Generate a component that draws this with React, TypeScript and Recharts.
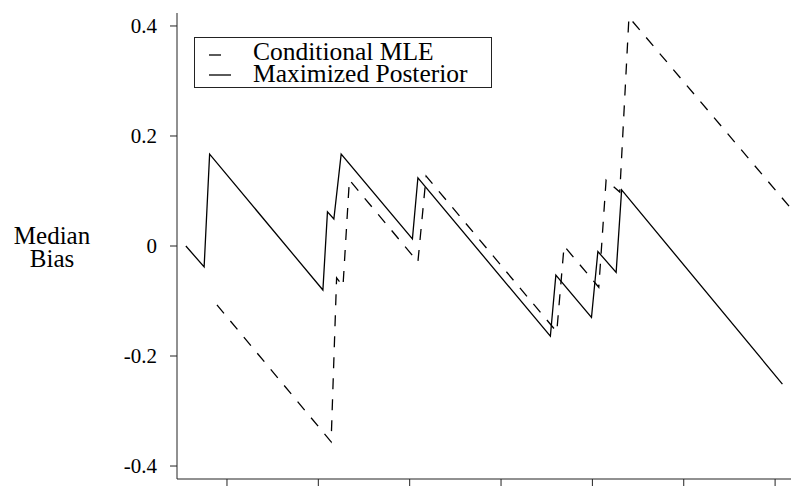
import { LineChart, Line, XAxis, YAxis, Legend } from "recharts";

// solid line: maximized posterior
const postX = [0.55, 0.75, 0.81, 2.05, 2.1, 2.17, 2.25, 3.03, 3.09, 4.54, 4.6, 4.99, 5.06, 5.26, 5.32, 7.08];
const postY = [0.0, -0.038, 0.167, -0.08, 0.062, 0.049, 0.167, 0.013, 0.124, -0.164, -0.053, -0.13, -0.01, -0.048, 0.102, -0.251];

// dashed line: conditional MLE
const mleX = [0.89, 2.14, 2.2, 2.27, 2.34, 3.09, 3.18, 4.61, 4.69, 5.07, 5.15, 5.3, 5.4, 7.17];
const mleY = [-0.107, -0.356, -0.058, -0.073, 0.12, -0.029, 0.127, -0.156, 0.0, -0.075, 0.12, 0.098, 0.416, 0.069];

const xTicks = [1, 2, 3, 4, 5, 6, 7];
const yTicks = [-0.4, -0.2, 0, 0.2, 0.4];

const seriesNames = ["Conditional MLE", "Maximized Posterior"];

const FONT = "'Liberation Serif', 'Times New Roman', serif";

const toPoints = (xs: number[], ys: number[]) => xs.map((x, i) => ({ x, y: ys[i] }));

const postData = toPoints(postX, postY);
const mleData = toPoints(mleX, mleY);

function YLabel() {
  return (
    <text x={52} textAnchor="middle" fontFamily={FONT} fontSize={25} fill="#000">
      <tspan x={52} y={244}>Median</tspan>
      <tspan x={52} y={267}>Bias</tspan>
    </text>
  );
}

function LegendBox() {
  return (
    <div
      style={{
        width: 296,
        height: 49,
        border: "1px solid #222",
        background: "#fff",
        fontFamily: FONT,
        fontSize: 25.5,
        color: "#000",
        boxSizing: "content-box",
      }}
    >
      {seriesNames.map((name, i) => (
        <div key={name} style={{ display: "flex", alignItems: "center", height: 22, marginTop: i === 0 ? 3 : 0, lineHeight: "22px" }}>
          <svg width={58} height={22} style={{ flex: "none" }}>
            {i === 0 ? (
              <line x1={14} x2={26} y1={14} y2={14} stroke="#000" strokeWidth={1.3} />
            ) : (
              <line x1={14} x2={36} y1={12} y2={12} stroke="#000" strokeWidth={1.3} />
            )}
          </svg>
          <span style={{ whiteSpace: "nowrap" }}>{name}</span>
        </div>
      ))}
    </div>
  );
}

export default function App() {
  return (
    <div style={{ position: "absolute", left: 0, top: 0, width: 791, height: 486, background: "#fff" }}>
      <LineChart width={791} height={486} margin={{ top: 13, right: 0, bottom: 0, left: 0 }}>
        <XAxis
          type="number"
          dataKey="x"
          domain={[0.453, 7.174]}
          allowDataOverflow
          ticks={xTicks}
          tickFormatter={() => ""}
          height={7}
          tickSize={7}
          stroke="#222"
          axisLine={{ stroke: "#222" }}
          tickLine={{ stroke: "#222" }}
        />
        <YAxis
          type="number"
          domain={[-0.4236, 0.4236]}
          allowDataOverflow
          ticks={yTicks}
          width={177}
          tickSize={7}
          tickMargin={13}
          tickFormatter={(v: number) => (v === 0 ? "0" : v.toFixed(1))}
          tick={{ fontFamily: FONT, fontSize: 21, fill: "#000" }}
          axisLine={{ stroke: "#222" }}
          tickLine={{ stroke: "#222" }}
          label={<YLabel />}
        />
        <Legend
          content={() => <LegendBox />}
          layout="horizontal"
          align="center"
          verticalAlign="middle"
          wrapperStyle={{ position: "absolute", left: 194, top: 37, width: 298, height: 51 }}
        />
        <Line
          data={mleData}
          dataKey="y"
          name={seriesNames[0]}
          type="linear"
          stroke="#000"
          strokeWidth={1.3}
          strokeDasharray="11 10"
          dot={false}
          isAnimationActive={false}
        />
        <Line
          data={postData}
          dataKey="y"
          name={seriesNames[1]}
          type="linear"
          stroke="#000"
          strokeWidth={1.3}
          dot={false}
          isAnimationActive={false}
        />
      </LineChart>
    </div>
  );
}
